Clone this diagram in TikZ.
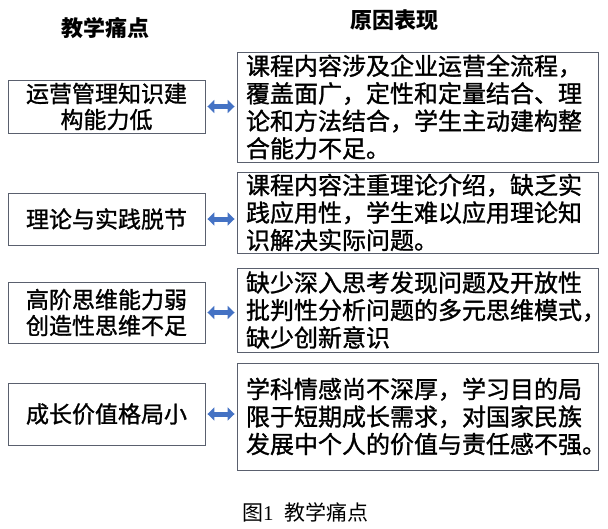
\documentclass[tikz,border=0pt]{standalone}
\usepackage{fontspec}
\setmainfont{Liberation Serif}
\newfontfamily\cjk{Noto Sans CJK SC}[FakeBold=1.2]
\newfontfamily\cjkhead{Noto Sans CJK SC}
\usetikzlibrary{arrows.meta}
\definecolor{arrowblue}{RGB}{68,114,196}
\definecolor{boxline}{RGB}{90,96,110}

\begin{document}
\begin{tikzpicture}[x=1pt,y=-1pt,
  painbox/.style={
    draw=boxline, rectangle, line width=0.9pt, minimum width=197pt,
    align=center, font=\cjk\fontsize{23}{26}\selectfont, inner sep=0pt
  },
  causebox/.style={
    draw=boxline, rectangle, line width=0.9pt, minimum width=361pt,
    text width=343pt, align=left, font=\cjk\fontsize{24}{27.5}\selectfont,
    inner xsep=9pt, inner ysep=0pt
  },
  header/.style={font=\cjkhead\bfseries\fontsize{22}{26}\selectfont},
  biarrow/.style={
    draw=arrowblue, line width=5pt, shorten <=2pt, shorten >=2pt,
    {Triangle[length=7pt,width=13pt]}-{Triangle[length=7pt,width=13pt]}
  }
]
\useasboundingbox (0,0) rectangle (608,528);

% Headers
\node[header] (head1) at (105,28) {教学痛点};
\node[header] (head2) at (394,20) {原因表现};

% Left column: pain points
\node[painbox, minimum height=53pt] (l1) at (106.5,106.5) {运营管理知识建\\构能力低};
\node[painbox, minimum height=52pt] (l2) at (106.5,219) {理论与实践脱节};
\node[painbox, minimum height=61pt] (l3) at (106.5,312.5) {高阶思维能力弱\\创造性思维不足};
\node[painbox, minimum height=62pt] (l4) at (106.5,414) {成长价值格局小};

% Right column: causes
\node[causebox, minimum height=110pt] (r1) at (417.5,107) {课程内容涉及企业运营全流程，\\覆盖面广，定性和定量结合、理\\论和方法结合，学生主动建构整\\合能力不足。};
\node[causebox, minimum height=81pt] (r2) at (417.5,212.5) {课程内容注重理论介绍，缺乏实\\践应用性，学生难以应用理论知\\识解决实际问题。};
\node[causebox, minimum height=84pt] (r3) at (417.5,310) {缺少深入思考发现问题及开放性\\批判性分析问题的多元思维模式，\\缺少创新意识};
\node[causebox, minimum height=107pt] (r4) at (417.5,416.5) {学科情感尚不深厚，学习目的局\\限于短期成长需求，对国家民族\\发展中个人的价值与责任感不强。};

% Arrows between columns
\foreach \i in {1,...,4} {
  \draw[biarrow] (l\i.east) -- (l\i.east -| r\i.west);
}

% Caption
\node[font=\fontsize{21}{24}\selectfont] (cap) at (305,512) {{\cjkhead 图}1\ \ {\cjkhead 教学痛点}};
\end{tikzpicture}
\end{document}
